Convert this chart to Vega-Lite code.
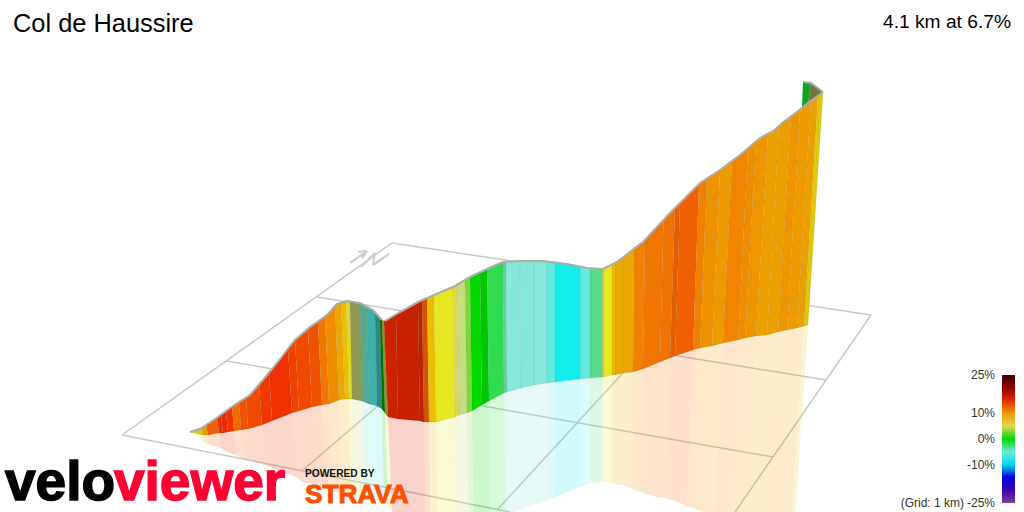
{
  "$schema": "https://vega.github.io/schema/vega-lite/v6.json",
  "width": 1024,
  "height": 512,
  "padding": 0,
  "autosize": {"type": "none"},
  "background": "white",
  "view": {"stroke": null},
  "config": {"axis": {"domain": false}},
  "datasets": {
    "strips": [
      {"id":1,"grade":7,"shade":0.1,"x":[190,197,198,190],"y":[432,430,434,432],"rx":[190,198,199,190],"ry":[432,434,438,432]},
      {"id":2,"grade":8.5,"shade":0.05,"x":[197,202,203,198],"y":[430,428,435,434],"rx":[198,203,204,199],"ry":[434,435,442,438]},
      {"id":3,"grade":10,"shade":0,"x":[202,206,208,203],"y":[428,425,435,435],"rx":[203,208,210,204],"ry":[435,435,445,442]},
      {"id":4,"grade":12.5,"shade":0,"x":[206,217,219,208],"y":[425,418,433,435],"rx":[208,219,221,210],"ry":[435,433,448,445]},
      {"id":5,"grade":14,"shade":0,"x":[217,221,223,219],"y":[418,415,433,433],"rx":[219,223,225,221],"ry":[433,433,451,448]},
      {"id":6,"grade":14.7,"shade":0,"x":[221,226,228,223],"y":[415,411,432,433],"rx":[223,228,230,225],"ry":[433,432,453,451]},
      {"id":7,"grade":14,"shade":0,"x":[226,232,234,228],"y":[411,407,431,432],"rx":[228,234,236,230],"ry":[432,431,455,453]},
      {"id":8,"grade":12,"shade":0,"x":[232,239,241,234],"y":[407,401,430,431],"rx":[234,241,243,236],"ry":[431,430,459,455]},
      {"id":9,"grade":13,"shade":0,"x":[239,246,248,241],"y":[401,398,429,430],"rx":[241,248,250,243],"ry":[430,429,460,459]},
      {"id":10,"grade":13.3,"shade":0,"x":[246,259,262,248],"y":[398,385,425,429],"rx":[248,262,265,250],"ry":[429,425,465,460]},
      {"id":11,"grade":13.8,"shade":0,"x":[259,269,272,262],"y":[385,373,421,425],"rx":[262,272,275,265],"ry":[425,421,469,465]},
      {"id":12,"grade":14,"shade":0,"x":[269,288,292,272],"y":[373,349,413,421],"rx":[272,292,296,275],"ry":[421,413,477,469]},
      {"id":13,"grade":13.5,"shade":0,"x":[288,295,299,292],"y":[349,340,411,413],"rx":[292,299,303,296],"ry":[413,411,482,477]},
      {"id":14,"grade":13.3,"shade":0,"x":[295,308,312,299],"y":[340,329,407,411],"rx":[299,312,316,303],"ry":[411,407,485,482]},
      {"id":15,"grade":13,"shade":0,"x":[308,318,322,312],"y":[329,322,405,407],"rx":[312,322,326,316],"ry":[407,405,488,485]},
      {"id":16,"grade":11.5,"shade":0,"x":[318,325,329,322],"y":[322,316,404,405],"rx":[322,329,333,326],"ry":[405,404,492,488]},
      {"id":17,"grade":10.5,"shade":0,"x":[325,335,339,329],"y":[316,306,400,404],"rx":[329,339,343,333],"ry":[404,400,494,492]},
      {"id":18,"grade":9.5,"shade":0,"x":[335,341,345,339],"y":[306,303,399,400],"rx":[339,345,349,343],"ry":[400,399,495,494]},
      {"id":19,"grade":9,"shade":0,"x":[341,346,349,345],"y":[303,301,399,399],"rx":[345,349,352,349],"ry":[399,399,497,495]},
      {"id":20,"grade":8,"shade":0.05,"x":[346,350,352,349],"y":[301,301,399,399],"rx":[349,352,354,352],"ry":[399,399,497,497]},
      {"id":21,"grade":3,"shade":0.3,"x":[350,360,362,352],"y":[301,303,401,399],"rx":[352,362,364,354],"ry":[399,401,499,497]},
      {"id":22,"grade":-3,"shade":0.25,"x":[360,367,369,362],"y":[303,306,404,401],"rx":[362,369,371,364],"ry":[401,404,502,499]},
      {"id":23,"grade":-6,"shade":0.25,"x":[367,375,377,369],"y":[306,312,406,404],"rx":[369,377,379,371],"ry":[404,406,500,502]},
      {"id":24,"grade":-6,"shade":0.42,"x":[375,380,382,377],"y":[312,317,409,406],"rx":[377,382,384,379],"ry":[406,409,501,500]},
      {"id":25,"grade":0,"shade":0.45,"x":[380,382,385,382],"y":[317,320,413,409],"rx":[382,385,388,384],"ry":[409,413,506,501]},
      {"id":26,"grade":6,"shade":0.35,"x":[382,384,388,385],"y":[320,321,417,413],"rx":[385,388,392,388],"ry":[413,417,513,506]},
      {"id":27,"grade":15,"shade":0.12,"x":[384,396,398,388],"y":[321,314,419,417],"rx":[388,398,400,392],"ry":[417,419,524,513]},
      {"id":28,"grade":15,"shade":0.14,"x":[396,418,420,398],"y":[314,302,421,419],"rx":[398,420,422,400],"ry":[419,421,540,524]},
      {"id":29,"grade":14.5,"shade":0.2,"x":[418,422,424,420],"y":[302,300,422,421],"rx":[420,424,426,422],"ry":[421,422,544,540]},
      {"id":30,"grade":12.5,"shade":0.12,"x":[422,427,429,424],"y":[300,298,422,422],"rx":[424,429,431,426],"ry":[422,422,546,544]},
      {"id":31,"grade":9,"shade":0,"x":[427,434,436,429],"y":[298,295,422,422],"rx":[429,436,438,431],"ry":[422,422,549,546]},
      {"id":32,"grade":8,"shade":0,"x":[434,453,455,436],"y":[295,287,417,422],"rx":[436,455,457,438],"ry":[422,417,547,549]},
      {"id":33,"grade":5,"shade":0,"x":[453,457,459,455],"y":[287,284,415,417],"rx":[455,459,461,457],"ry":[417,415,546,547]},
      {"id":34,"grade":2,"shade":0,"x":[457,465,467,459],"y":[284,280,413,415],"rx":[459,467,469,461],"ry":[415,413,546,546]},
      {"id":35,"grade":0.7,"shade":0,"x":[465,470,472,467],"y":[280,277,411,413],"rx":[467,472,474,469],"ry":[413,411,545,546]},
      {"id":36,"grade":0,"shade":0,"x":[470,480,482,472],"y":[277,272,405,411],"rx":[472,482,484,474],"ry":[411,405,538,545]},
      {"id":37,"grade":0,"shade":0.08,"x":[480,487,489,482],"y":[272,269,401,405],"rx":[482,489,491,484],"ry":[405,401,533,538]},
      {"id":38,"grade":-0.5,"shade":0,"x":[487,503,504,489],"y":[269,262,393,401],"rx":[489,504,505,491],"ry":[401,393,517,533]},
      {"id":39,"grade":-3,"shade":0.1,"x":[503,506,507,504],"y":[262,262,392,393],"rx":[504,507,508,505],"ry":[393,392,514,517]},
      {"id":40,"grade":-4,"shade":0,"x":[506,520,521,507],"y":[262,261,388,392],"rx":[507,521,522,508],"ry":[392,388,509,514]},
      {"id":41,"grade":-4,"shade":0,"x":[520,534,534,521],"y":[261,261,385,388],"rx":[521,534,534,522],"ry":[388,385,505,509]},
      {"id":42,"grade":-4,"shade":0,"x":[534,547,547,534],"y":[261,261.5,383,385],"rx":[534,547,547,534],"ry":[385,383,500,505]},
      {"id":43,"grade":-5.5,"shade":0,"x":[547,555,555,547],"y":[261.5,262.5,382,383],"rx":[547,555,555,547],"ry":[383,382,497,500]},
      {"id":44,"grade":-7,"shade":0,"x":[555,580,580,555],"y":[262.5,266.5,379,382],"rx":[555,580,580,555],"ry":[382,379,487,497]},
      {"id":45,"grade":-5.5,"shade":0,"x":[580,590,590,580],"y":[266.5,268,378,379],"rx":[580,590,590,580],"ry":[379,378,483,487]},
      {"id":46,"grade":-1.5,"shade":0,"x":[590,602,602,590],"y":[268,269,377,378],"rx":[590,602,602,590],"ry":[378,377,482,483]},
      {"id":47,"grade":2,"shade":0.05,"x":[602,604,604,602],"y":[269,268.5,377,377],"rx":[602,604,604,602],"ry":[377,377,482,482]},
      {"id":48,"grade":8,"shade":0,"x":[604,612,612,604],"y":[268.5,265,375,377],"rx":[604,612,612,604],"ry":[377,375,483,482]},
      {"id":49,"grade":9,"shade":0,"x":[612,615,615,612],"y":[265,263,375,375],"rx":[612,615,615,612],"ry":[375,375,484,483]},
      {"id":50,"grade":9.5,"shade":0,"x":[615,623,623,615],"y":[263,258,373,375],"rx":[615,623,623,615],"ry":[375,373,485,484]},
      {"id":51,"grade":9.5,"shade":0,"x":[623,634,633,623],"y":[258,249,372,373],"rx":[623,633,632,623],"ry":[373,372,489,485]},
      {"id":52,"grade":11,"shade":0,"x":[634,645,643,633],"y":[249,240,369,372],"rx":[633,643,641,632],"ry":[372,369,492,489]},
      {"id":53,"grade":11.5,"shade":0,"x":[645,663.5,660,643],"y":[240,220,362,369],"rx":[643,660,656,641],"ry":[369,362,497,492]},
      {"id":54,"grade":11.7,"shade":0,"x":[663.5,675,670,660],"y":[220,208,358,362],"rx":[660,670,665,656],"ry":[362,358,498,497]},
      {"id":55,"grade":12.3,"shade":0.05,"x":[675,680,675,670],"y":[208,203,356,358],"rx":[670,675,670,665],"ry":[358,356,499,498]},
      {"id":56,"grade":12.5,"shade":0,"x":[680,699,693,675],"y":[203,184,350,356],"rx":[675,693,687,670],"ry":[356,350,506,499]},
      {"id":57,"grade":11,"shade":0,"x":[699,707,700,693],"y":[184,178,348,350],"rx":[693,700,693,687],"ry":[350,348,508,506]},
      {"id":58,"grade":10.3,"shade":0,"x":[707,720,712,700],"y":[178,170,346,348],"rx":[700,712,704,693],"ry":[348,346,512,508]},
      {"id":59,"grade":10,"shade":0,"x":[720,732,723,712],"y":[170,161,343,346],"rx":[712,723,714,704],"ry":[346,343,515,512]},
      {"id":60,"grade":10.8,"shade":0,"x":[732,748,738,723],"y":[161,148,340,343],"rx":[723,738,728,714],"ry":[343,340,522,515]},
      {"id":61,"grade":10.5,"shade":0,"x":[748,756,745,738],"y":[148,141.5,338,340],"rx":[738,745,734,728],"ry":[340,338,525,522]},
      {"id":62,"grade":10.2,"shade":0,"x":[756,768,756,745],"y":[141.5,134,336,338],"rx":[745,756,744,734],"ry":[338,336,528,525]},
      {"id":63,"grade":9.8,"shade":0,"x":[768,779,767,756],"y":[134,126,335,336],"rx":[756,767,755,744],"ry":[336,335,534,528]},
      {"id":64,"grade":9.8,"shade":0,"x":[779,791,778,767],"y":[126,116.5,332,335],"rx":[767,778,765,755],"ry":[335,332,538,534]},
      {"id":65,"grade":10.2,"shade":0,"x":[791,800,787,778],"y":[116.5,110,330,332],"rx":[778,787,774,765],"ry":[332,330,540,538]},
      {"id":66,"grade":10,"shade":0,"x":[800,811,797,787],"y":[110,101,328,330],"rx":[787,797,783,774],"ry":[330,328,545,540]},
      {"id":67,"grade":9.8,"shade":0,"x":[811,818,804,797],"y":[101,96,326,328],"rx":[797,804,790,783],"ry":[328,326,546,545]},
      {"id":68,"grade":8.5,"shade":0.05,"x":[818,823,808,804],"y":[96,92,325,326],"rx":[804,808,793,790],"ry":[326,325,548,546]}
    ],
    "tail": [
      {"id":1,"grade":-0.2,"shade":0.25,"x":[803,811,808,802],"y":[82,83,104,107]},
      {"id":2,"grade":3,"shade":0.45,"x":[811,823,808,808],"y":[83,92,103,104]}
    ],
    "ridge": [
      {"part":"a","x":190,"y":432},{"part":"a","x":200,"y":429},{"part":"a","x":218,"y":417},{"part":"a","x":230,"y":408},
      {"part":"a","x":250,"y":395},{"part":"a","x":263,"y":380},{"part":"a","x":277,"y":363},{"part":"a","x":287,"y":350},
      {"part":"a","x":295,"y":340},{"part":"a","x":310,"y":327},{"part":"a","x":327,"y":315},{"part":"a","x":337,"y":304},
      {"part":"a","x":347,"y":301},{"part":"a","x":360,"y":303},{"part":"a","x":373,"y":310},{"part":"a","x":382,"y":320},
      {"part":"b","x":385,"y":321},{"part":"b","x":400,"y":312},{"part":"b","x":420,"y":301},{"part":"b","x":453,"y":287},
      {"part":"b","x":470,"y":277},{"part":"b","x":487,"y":269},{"part":"b","x":503,"y":262},{"part":"b","x":520,"y":261},
      {"part":"b","x":543,"y":261},{"part":"b","x":567,"y":264},{"part":"b","x":587,"y":268},{"part":"b","x":603,"y":269},
      {"part":"b","x":617,"y":262},{"part":"b","x":635,"y":248},{"part":"b","x":643,"y":242},{"part":"b","x":670,"y":213},
      {"part":"b","x":678,"y":205},{"part":"b","x":700,"y":183},{"part":"b","x":720,"y":170},{"part":"b","x":740,"y":155},
      {"part":"b","x":760,"y":138},{"part":"b","x":775,"y":130},{"part":"b","x":782,"y":123},{"part":"b","x":793,"y":115},
      {"part":"b","x":808,"y":103},{"part":"b","x":823,"y":92},
      {"part":"c","x":803,"y":82},{"part":"c","x":811,"y":83},{"part":"c","x":823,"y":92}
    ],
    "grid": [
      {"x":392,"y":243,"x2":871,"y2":315},
      {"x":122,"y":435,"x2":392,"y2":243},
      {"x":871,"y":315,"x2":735,"y2":512},
      {"x":122,"y":435,"x2":510,"y2":512},
      {"x":303,"y":470,"x2":541,"y2":266},
      {"x":497,"y":510,"x2":700,"y2":289},
      {"x":317,"y":297,"x2":826,"y2":380},
      {"x":227,"y":361,"x2":773,"y2":457}
    ],
    "compass": [
      {"x":350,"y":263,"x2":367,"y2":251},
      {"x":367,"y":251,"x2":358,"y2":252},
      {"x":367,"y":251,"x2":362,"y2":258},
      {"x":361,"y":267,"x2":375,"y2":253},
      {"x":375,"y":253,"x2":373,"y2":265},
      {"x":373,"y":265,"x2":389,"y2":254}
    ]
  },
  "layer": [
    {
      "data": {"name": "grid"},
      "mark": {"type": "rule", "color": "#c9c9c9", "strokeWidth": 1.5},
      "encoding": {
        "x": {"field": "x", "type": "quantitative", "axis": null, "scale": {"domain": [0, 1024], "range": [0, 1024], "nice": false, "zero": false}},
        "y": {"field": "y", "type": "quantitative", "axis": null, "scale": {"domain": [0, 512], "range": [0, 512], "nice": false, "zero": false}},
        "x2": {"field": "x2"},
        "y2": {"field": "y2"}
      }
    },
    {
      "data": {"name": "compass"},
      "mark": {"type": "rule", "color": "#d0d0d0", "strokeWidth": 2.2},
      "encoding": {
        "x": {"field": "x", "type": "quantitative"},
        "y": {"field": "y", "type": "quantitative"},
        "x2": {"field": "x2"},
        "y2": {"field": "y2"}
      }
    },
    {
      "data": {"name": "strips"},
      "transform": [{"flatten": ["rx", "ry"]}, {"window": [{"op": "row_number", "as": "v"}], "groupby": ["id"]}],
      "mark": {"type": "line", "filled": true, "fillOpacity": 0.2, "clip": true},
      "encoding": {
        "x": {"field": "rx", "type": "quantitative"},
        "y": {"field": "ry", "type": "quantitative"},
        "detail": {"field": "id"},
        "order": {"field": "v", "type": "quantitative"},
        "color": {"field": "grade", "type": "quantitative"}
      }
    },
    {
      "data": {"name": "tail"},
      "transform": [{"flatten": ["x", "y"]}, {"window": [{"op": "row_number", "as": "v"}], "groupby": ["id"]}],
      "mark": {"type": "line", "filled": true},
      "encoding": {
        "x": {"field": "x", "type": "quantitative"},
        "y": {"field": "y", "type": "quantitative"},
        "detail": {"field": "id"},
        "order": {"field": "v", "type": "quantitative"},
        "color": {"field": "grade", "type": "quantitative"}
      }
    },
    {
      "data": {"name": "tail"},
      "transform": [{"flatten": ["x", "y"]}, {"window": [{"op": "row_number", "as": "v"}], "groupby": ["id"]}],
      "mark": {"type": "line", "filled": true, "fill": "black", "stroke": null},
      "encoding": {
        "x": {"field": "x", "type": "quantitative"},
        "y": {"field": "y", "type": "quantitative"},
        "detail": {"field": "id"},
        "order": {"field": "v", "type": "quantitative"},
        "opacity": {"field": "shade", "type": "quantitative", "scale": {"domain": [0, 1], "range": [0, 1]}, "legend": null}
      }
    },
    {
      "data": {"name": "strips"},
      "transform": [{"flatten": ["x", "y"]}, {"window": [{"op": "row_number", "as": "v"}], "groupby": ["id"]}],
      "mark": {"type": "line", "filled": true},
      "encoding": {
        "x": {"field": "x", "type": "quantitative"},
        "y": {"field": "y", "type": "quantitative"},
        "detail": {"field": "id"},
        "order": {"field": "v", "type": "quantitative"},
        "color": {
          "field": "grade",
          "type": "quantitative",
          "scale": {
            "domain": [-25, -20, -15, -13, -10, -7, -4, -2, -0.5, 0, 2, 5, 8, 9.5, 11, 12.5, 14, 15, 20, 25],
            "range": ["#7b3f98", "#4000b0", "#0000e0", "#0070e8", "#00d8ee", "#15ecec", "#85e8d8", "#70d8a0", "#30dc50", "#00d800", "#c8dc80", "#ddd855", "#e8e822", "#eba800", "#f08000", "#f06000", "#f03000", "#e82800", "#900000", "#400000"]
          },
          "legend": {
            "orient": "none",
            "legendX": 1002,
            "legendY": 375,
            "title": null,
            "values": [-25, -10, 0, 10, 25],
            "gradientLength": 128,
            "gradientThickness": 13,
            "gradientStrokeWidth": 0,
            "labelOverlap": false,
            "labelExpr": "datum.value + '%'",
            "labelFont": "Liberation Sans",
            "labelFontSize": 12,
            "labelColor": "#333333",
            "encode": {"labels": {"update": {"x": {"value": -7}, "align": {"value": "right"}, "baseline": {"value": "middle"}}}}
          }
        }
      }
    },
    {
      "data": {"name": "strips"},
      "transform": [{"flatten": ["x", "y"]}, {"window": [{"op": "row_number", "as": "v"}], "groupby": ["id"]}, {"filter": "datum.shade > 0"}],
      "mark": {"type": "line", "filled": true, "fill": "black", "stroke": null},
      "encoding": {
        "x": {"field": "x", "type": "quantitative"},
        "y": {"field": "y", "type": "quantitative"},
        "detail": {"field": "id"},
        "order": {"field": "v", "type": "quantitative"},
        "opacity": {"field": "shade", "type": "quantitative", "scale": {"domain": [0, 1], "range": [0, 1]}, "legend": null}
      }
    },
    {
      "data": {"name": "strips"},
      "transform": [{"flatten": ["x", "y"]}, {"window": [{"op": "row_number", "as": "v"}], "groupby": ["id"]}],
      "mark": {"type": "line", "stroke": "#333333", "strokeWidth": 0.8, "opacity": 0.1},
      "encoding": {
        "x": {"field": "x", "type": "quantitative"},
        "y": {"field": "y", "type": "quantitative"},
        "detail": {"field": "id"},
        "order": {"field": "v", "type": "quantitative"}
      }
    },
    {
      "data": {"name": "ridge"},
      "mark": {"type": "line", "stroke": "#acacac", "strokeWidth": 2},
      "encoding": {
        "x": {"field": "x", "type": "quantitative"},
        "y": {"field": "y", "type": "quantitative"},
        "detail": {"field": "part"},
        "order": {"value": null}
      }
    },
    {
      "data": {"values": [{"label": "Col de Haussire", "x": 13, "y": 24}]},
      "mark": {"type": "text", "font": "Liberation Sans", "fontSize": 25.4, "align": "left", "baseline": "middle", "color": "#000000"},
      "encoding": {
        "x": {"field": "x", "type": "quantitative"},
        "y": {"field": "y", "type": "quantitative"},
        "text": {"field": "label"}
      }
    },
    {
      "data": {"values": [{"label": "4.1 km at 6.7%", "x": 1011, "y": 22}]},
      "mark": {"type": "text", "font": "Liberation Sans", "fontSize": 19.2, "align": "right", "baseline": "middle", "color": "#000000"},
      "encoding": {
        "x": {"field": "x", "type": "quantitative"},
        "y": {"field": "y", "type": "quantitative"},
        "text": {"field": "label"}
      }
    },
    {
      "data": {"values": [{"label": "(Grid: 1 km)", "x": 964, "y": 503}]},
      "mark": {"type": "text", "font": "Liberation Sans", "fontSize": 12, "align": "right", "baseline": "middle", "color": "#333333"},
      "encoding": {
        "x": {"field": "x", "type": "quantitative"},
        "y": {"field": "y", "type": "quantitative"},
        "text": {"field": "label"}
      }
    },
    {
      "data": {"values": [{"label": "velo", "x": 5, "y": 500}]},
      "mark": {"type": "text", "font": "Liberation Sans", "fontWeight": "bold", "fontSize": 55, "align": "left", "baseline": "alphabetic", "color": "#000000", "stroke": "#000000", "strokeWidth": 1.5},
      "encoding": {
        "x": {"field": "x", "type": "quantitative"},
        "y": {"field": "y", "type": "quantitative"},
        "text": {"field": "label"}
      }
    },
    {
      "data": {"values": [{"label": "viewer", "x": 114, "y": 500}]},
      "mark": {"type": "text", "font": "Liberation Sans", "fontWeight": "bold", "fontSize": 55, "align": "left", "baseline": "alphabetic", "color": "#ff0033", "stroke": "#ff0033", "strokeWidth": 1.5},
      "encoding": {
        "x": {"field": "x", "type": "quantitative"},
        "y": {"field": "y", "type": "quantitative"},
        "text": {"field": "label"}
      }
    },
    {
      "data": {"values": [{"label": "POWERED BY", "x": 305, "y": 477}]},
      "mark": {"type": "text", "font": "Liberation Sans", "fontWeight": "bold", "fontSize": 10.2, "align": "left", "baseline": "alphabetic", "color": "#111111"},
      "encoding": {
        "x": {"field": "x", "type": "quantitative"},
        "y": {"field": "y", "type": "quantitative"},
        "text": {"field": "label"}
      }
    },
    {
      "data": {"values": [{"label": "STRAVA", "x": 305, "y": 503}]},
      "mark": {"type": "text", "font": "Liberation Sans", "fontWeight": "bold", "fontSize": 26.2, "align": "left", "baseline": "alphabetic", "color": "#fc5200", "stroke": "#fc5200", "strokeWidth": 1},
      "encoding": {
        "x": {"field": "x", "type": "quantitative"},
        "y": {"field": "y", "type": "quantitative"},
        "text": {"field": "label"}
      }
    }
  ]
}
